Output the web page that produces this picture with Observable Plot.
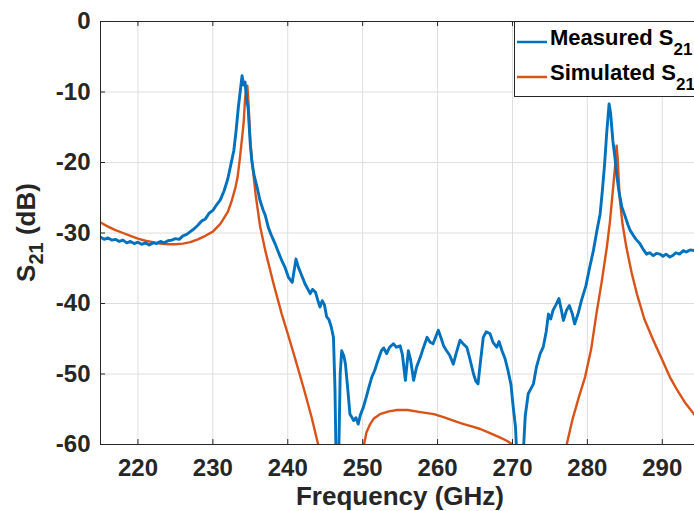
<!DOCTYPE html>
<html>
<head>
<meta charset="utf-8">
<script src="https://cdn.jsdelivr.net/npm/d3@7"></script>
<script src="https://cdn.jsdelivr.net/npm/@observablehq/plot@0.6"></script>
<style>
html, body { margin: 0; padding: 0; background: #fff; overflow: hidden; }
#chart { width: 694px; height: 511px; }
</style>
</head>
<body>
<div id="chart"></div>
<script>
// ---- tick values ----
const xTicks = [220, 230, 240, 250, 260, 270, 280, 290];
const yTicks = [0, -10, -20, -30, -40, -50, -60];

// ---- Measured S21 (GHz, dB) ----
const measuredFreq = [
  215.0, 215.5, 216.0, 216.5, 217.0, 217.5, 218.0, 218.5, 219.0, 219.5,
  220.0, 220.5, 221.0, 221.5, 222.0, 222.5, 223.0, 223.5, 224.0, 224.5,
  225.0, 225.5, 226.0, 226.5, 227.0, 227.5, 228.0, 228.5, 229.0, 229.5,
  230.0, 230.5, 231.0, 231.5, 232.0, 232.5, 232.8, 233.1, 233.4, 233.7,
  233.9, 234.1, 234.3, 234.5, 234.7, 235.0, 235.2, 235.5, 235.9, 236.3,
  236.7, 237.0, 237.4, 237.8, 238.3, 238.7, 239.2, 239.6, 240.1, 240.6,
  240.9, 241.1, 241.4, 241.7, 242.0, 242.3, 242.6, 243.0, 243.3, 243.7,
  244.0, 244.3, 244.6, 244.9, 245.2, 245.5, 245.8, 246.1, 246.3, 246.45,
  246.8, 247.0, 247.2, 247.5, 247.7, 248.0, 248.3, 248.6, 248.8, 249.1,
  249.4, 249.7, 250.1, 250.5, 250.8, 251.2, 251.6, 252.0, 252.5, 252.8,
  253.2, 253.6, 254.1, 254.5, 255.0, 255.3, 255.7, 256.1, 256.4, 256.8,
  257.2, 257.7, 258.1, 258.6, 259.0, 259.4, 259.8, 260.1, 260.5, 260.8,
  261.2, 261.6, 262.1, 262.5, 263.0, 263.4, 263.9, 264.3, 264.8, 265.1,
  265.4, 265.7, 266.1, 266.5, 267.0, 267.4, 267.9, 268.2, 268.6, 269.0,
  269.4, 269.8, 270.1, 270.4, 270.6, 271.4, 271.7, 272.1, 272.5, 272.8,
  273.2, 273.7, 274.1, 274.5, 274.8, 275.1, 275.4, 275.8, 276.2, 276.5,
  276.8, 277.2, 277.6, 278.0, 278.3, 278.8, 279.2, 279.8, 280.3, 280.8,
  281.3, 281.7, 282.0, 282.3, 282.6, 282.9, 283.1, 283.4, 283.7, 283.9,
  284.2, 284.6, 285.0, 285.4, 285.7, 286.1, 286.5, 287.0, 287.5, 287.9,
  288.3, 288.8, 289.2, 289.7, 290.1, 290.5, 291.0, 291.4, 291.8, 292.3,
  292.8, 293.2, 293.7, 294.3
];
const measuredDb = [
  -30.6, -30.9, -30.7, -31.0, -30.9, -31.2, -31.0, -31.4, -31.2, -31.5,
  -31.3, -31.6, -31.4, -31.7, -31.4, -31.5, -31.2, -31.4, -31.1, -31.0,
  -30.8, -30.9, -30.4, -30.2, -29.8, -29.4, -28.9, -28.3, -28.0, -27.2,
  -26.8, -26.0, -25.3, -24.0, -22.3, -19.8, -18.3, -15.5, -12.2, -9.5,
  -7.7, -9.0, -8.6, -11.0, -12.2, -17.5, -19.8, -21.8, -23.5, -25.4,
  -26.7, -27.5, -29.2, -30.3, -31.5, -32.6, -33.9, -34.8, -36.3, -37.0,
  -35.0, -33.7, -34.8, -35.6, -36.4, -37.2, -37.8, -38.6, -38.0, -38.4,
  -39.5, -40.5, -39.6, -40.2, -41.9, -42.3, -43.3, -44.8, -52.0, -62.0,
  -62.0, -50.0, -46.7, -47.5, -48.6, -52.0, -55.7, -56.2, -56.6, -56.2,
  -57.1, -55.8, -54.7, -53.2, -52.0, -50.5, -49.5, -48.2, -46.7, -46.3,
  -47.1, -46.2, -45.7, -46.2, -46.0, -47.2, -50.9, -46.7, -48.0, -50.9,
  -49.0, -47.6, -46.3, -44.8, -45.5, -45.7, -44.6, -43.8, -45.0, -46.0,
  -46.7, -47.3, -48.6, -47.0, -45.2, -45.7, -46.2, -47.8, -50.0, -51.0,
  -51.4, -48.5, -44.8, -44.0, -44.3, -45.5, -46.2, -45.4, -46.7, -47.8,
  -49.5, -51.5, -54.7, -57.5, -62.0, -62.0, -56.0, -52.8, -52.0, -51.4,
  -49.0, -47.1, -46.2, -44.0, -41.5, -42.2, -41.0, -40.2, -39.3, -40.8,
  -42.4, -41.0, -40.3, -41.5, -42.9, -41.3, -39.6, -37.5, -34.9, -32.5,
  -29.5, -27.3, -24.0, -20.2, -15.5, -11.7, -13.0, -16.9, -19.5, -21.6,
  -24.0, -26.3, -27.5, -28.8, -29.6, -30.3, -30.9, -31.5, -32.4, -33.0,
  -32.8, -33.2, -32.9, -33.0, -33.3, -33.0, -33.4, -33.2, -32.8, -33.0,
  -32.5, -32.7, -32.4, -32.5
];

// ---- Simulated S21 (GHz, dB); null separates branches ----
const simulatedFreq = [
  215.0, 216.0, 217.0, 218.0, 219.0, 220.0, 221.0, 222.0, 223.0, 224.0,
  225.0, 226.0, 227.0, 228.0, 229.0, 230.0, 231.0, 232.0, 232.5, 233.0,
  233.3, 233.6, 233.9, 234.1, 234.3, 234.5, 234.6, 234.7, 234.85, 235.0,
  235.3, 235.7, 236.3, 237.0, 238.1, 239.2, 240.2, 241.2, 242.2, 243.2,
  244.1, 244.3,
  247.0,
  250.0, 250.15, 250.5, 251.0, 251.5, 252.3, 253.5, 254.6, 256.0, 257.7,
  259.5, 261.0, 262.1, 263.5, 264.8, 265.7, 267.0, 268.3, 269.3, 270.1, 270.3,
  274.0,
  277.0, 277.2, 278.0, 278.8, 279.7, 280.5, 281.2, 281.9, 282.6, 283.0,
  283.4, 283.7, 283.9, 284.05, 284.3, 284.7, 285.2, 285.9, 286.6, 287.6,
  288.8, 290.0, 291.0, 292.0, 293.0, 294.3
];
const simulatedDb = [
  -28.5, -29.1, -29.6, -30.0, -30.4, -30.8, -31.1, -31.3, -31.5, -31.6,
  -31.6, -31.5, -31.3, -30.9, -30.4, -29.8, -28.7, -27.0, -25.5, -23.6,
  -22.1, -19.5, -16.5, -14.5, -11.0, -9.4, -9.1, -10.5, -13.5, -16.9,
  -20.5, -24.5, -29.0, -32.5, -37.2, -41.5, -45.0, -48.6, -52.3, -56.2,
  -60.2, -61.0,
  null,
  -61.0, -60.2, -58.3, -57.1, -56.3, -55.7, -55.3, -55.1, -55.1, -55.4,
  -55.7, -56.2, -56.6, -57.1, -57.5, -57.8, -58.4, -59.0, -59.5, -60.1, -61.0,
  null,
  -61.0, -60.2, -56.5, -53.5, -50.4, -46.5, -41.5, -37.0, -32.0, -28.5,
  -24.0, -20.5, -17.6, -19.5, -24.9, -28.8, -32.0, -35.6, -38.6, -42.2,
  -45.2, -48.0, -50.4, -52.3, -54.0, -55.8
];

const seriesNames = ["Measured S", "Simulated S"];
const seriesSub = "21";
const seriesColors = ["#0072BD", "#D95319"];
const xTitle = "Frequency (GHz)";
const yTitleMain = "S";
const yTitleSub = "21";
const yTitleRest = " (dB)";

const measured = measuredFreq.map((f, i) => ({f, db: measuredDb[i]}));
const simulated = simulatedFreq.map((f, i) => ({f, db: simulatedDb[i] == null ? NaN : simulatedDb[i]}));

const FONT = "'Liberation Sans', Arial, Helvetica, sans-serif";
const INK = "#262626";
const GRID = "#dedede";

const xDomain = [215, 294.3];
const yDomain = [-60, 0];

const plot = Plot.plot({
  width: 694,
  height: 511,
  marginLeft: 100,
  marginRight: 0,
  marginTop: 21,
  marginBottom: 67,
  style: {fontFamily: FONT, fontWeight: "bold", fontSize: "24px", color: INK, background: "#fff", overflow: "visible"},
  x: {domain: xDomain, axis: null},
  y: {domain: yDomain, axis: null},
  marks: [
    Plot.gridX(xTicks, {stroke: GRID, strokeOpacity: 1, strokeWidth: 1}),
    Plot.gridY(yTicks.filter(d => d !== 0 && d !== -60), {stroke: GRID, strokeOpacity: 1, strokeWidth: 1}),
    Plot.axisX(xTicks, {anchor: "bottom", tickSize: 0, tickPadding: 14, label: null, tickFormat: d => String(d), fontSize: 24, fontWeight: "bold", fill: INK}),
    Plot.axisY(yTicks, {anchor: "left", tickSize: 0, tickPadding: 10, label: null, tickFormat: d => String(d), fontSize: 24, fontWeight: "bold", fill: INK}),
    Plot.line(simulated, {x: "f", y: "db", stroke: seriesColors[1], strokeWidth: 2.4, clip: true}),
    Plot.line(measured, {x: "f", y: "db", stroke: seriesColors[0], strokeWidth: 2.9, clip: true}),
    // axis box lines
    Plot.ruleX([xDomain[0]], {stroke: INK, strokeWidth: 1}),
    Plot.ruleY([yDomain[0], yDomain[1]], {stroke: INK, strokeWidth: 1}),
    // inward tick marks
    Plot.ruleX(xTicks, {x: d => d, y1: -60, y2: -59.3, stroke: INK}),
    Plot.ruleX(xTicks, {x: d => d, y1: 0, y2: -0.7, stroke: INK}),
    Plot.ruleY(yTicks, {y: d => d, x1: 215, x2: 215.67, stroke: INK})
  ]
});

document.getElementById("chart").appendChild(plot);

// ---- titles and legend ----
const svg = d3.select(plot);
const xs = plot.scale("x"), ys = plot.scale("y");
const xMid = (xs.range[0] + 700) / 2;
const yMid = (ys.range[0] + ys.range[1]) / 2;

svg.append("text")
  .attr("x", xMid).attr("y", 505)
  .attr("text-anchor", "middle")
  .attr("font-family", FONT).attr("font-weight", "bold").attr("font-size", 26)
  .attr("fill", INK)
  .text(xTitle);

const yt = svg.append("text")
  .attr("transform", `translate(35,${yMid}) rotate(-90)`)
  .attr("text-anchor", "middle")
  .attr("font-family", FONT).attr("font-weight", "bold").attr("font-size", 26)
  .attr("fill", INK)
  .style("white-space", "pre");
yt.append("tspan").text(yTitleMain);
yt.append("tspan").attr("font-size", 20).attr("dy", 8).text(yTitleSub);
yt.append("tspan").attr("dy", -8).text(yTitleRest);

const lg = svg.append("g");
lg.append("rect")
  .attr("x", 514.5).attr("y", 21.5).attr("width", 220).attr("height", 75)
  .attr("fill", "#fff").attr("stroke", INK).attr("stroke-width", 1);
const rowY = [42, 77];
seriesNames.forEach((name, i) => {
  lg.append("line")
    .attr("x1", 517).attr("x2", 547).attr("y1", rowY[i]).attr("y2", rowY[i])
    .attr("stroke", seriesColors[i]).attr("stroke-width", 2.5);
  const t = lg.append("text")
    .attr("x", 550).attr("y", rowY[i] + 3)
    .attr("text-anchor", "start")
    .attr("font-family", FONT).attr("font-weight", "bold").attr("font-size", 22)
    .attr("fill", "#000");
  t.append("tspan").text(name);
  t.append("tspan").attr("font-size", 17).attr("dy", 10).text(seriesSub);
});
</script>
</body>
</html>
